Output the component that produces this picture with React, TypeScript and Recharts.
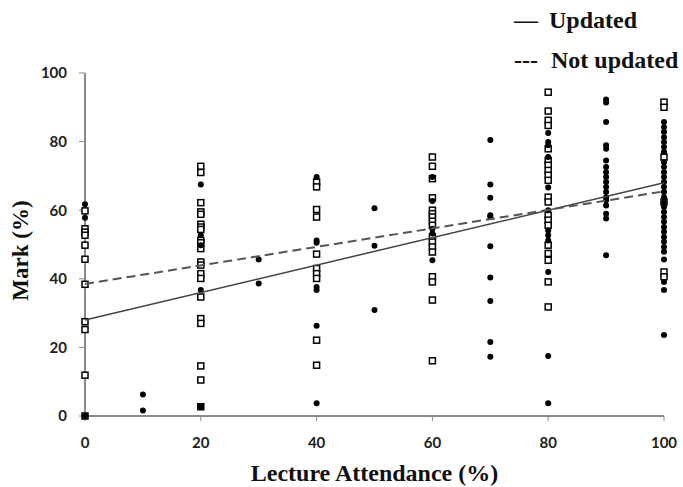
import React from 'react';
import { ScatterChart, Scatter, XAxis, YAxis, Label } from 'recharts';

// lecture attendance levels (%) and the marks read at each level
const attendance = [0, 10, 20, 30, 40, 50, 60, 70, 80, 90, 100];

// filled dots
const updatedMarks: number[][] = [
  [61.7, 57.8, 0],
  [6.3, 1.6],
  [67.5, 52.7, 49.8, 36.7, 2.7],
  [45.6, 38.6],
  [69.7, 51.2, 50.5, 37.6, 36.7, 26.3, 3.7],
  [60.6, 49.6, 30.9],
  [69.7, 62.7, 54.6, 53.2, 45.4],
  [80.5, 67.5, 63.6, 58.5, 58.0, 49.5, 40.4, 33.5, 21.6, 17.3],
  [82.5, 79.9, 78.9, 75.5, 66.6, 60.0, 54.1, 52.7, 51.2, 42.0, 17.5, 3.7],
  [92.3, 91.4, 85.7, 78.9, 77.9, 74.5, 72.6, 71.1, 69.7, 68.2, 66.8, 65.3, 63.8, 62.9, 61.4, 59.0, 57.6, 46.9],
  [85.7, 84.2, 82.8, 81.3, 79.9, 78.4, 77.0, 74.0, 72.6, 71.1, 69.7, 68.2, 66.8, 65.3, 63.8, 62.4, 60.9, 59.5, 58.0, 56.6, 55.1, 53.7, 52.2, 50.8, 49.3, 47.9, 45.6, 39.1, 36.7, 23.6],
];

// open squares
const notUpdatedMarks: number[][] = [
  [59.8, 54.6, 53.6, 52.7, 49.8, 45.7, 38.4, 27.5, 25.2, 11.9, 0],
  [],
  [72.8, 71.0, 62.2, 59.5, 58.8, 55.9, 55.1, 54.4, 51.2, 50.5, 48.8, 44.9, 44.0, 41.5, 40.1, 34.7, 28.4, 27.0, 14.6, 10.5, 2.7],
  [],
  [68.2, 66.8, 60.2, 58.0, 47.2, 43.0, 41.5, 40.1, 22.1, 14.8],
  [],
  [75.5, 72.8, 69.2, 63.6, 60.0, 59.0, 58.0, 56.8, 55.6, 52.2, 50.7, 49.3, 47.8, 40.6, 39.1, 33.8, 16.1],
  [],
  [94.4, 88.9, 86.2, 84.7, 77.9, 74.5, 73.1, 71.6, 70.2, 68.7, 63.8, 62.4, 58.5, 57.1, 55.6, 49.8, 47.4, 45.4, 39.1, 31.8],
  [],
  [91.5, 90.0, 75.5, 62.4, 42.0, 40.6],
];

// trend lines, mark at 0% and 100% attendance
const fitX = [0, 100];
const updatedFit = [28, 68];
const notUpdatedFit = [38.5, 65.5];

const axisTicks = [0, 20, 40, 60, 80, 100];

const toPoints = (marks: number[][]) =>
  marks.flatMap((col, i) => col.map((m) => ({ x: attendance[i], y: m })));
const toLine = (ys: number[]) => fitX.map((x, i) => ({ x, y: ys[i] }));

const AXIS = '#8a8a8a';
const tickStyle = { fill: '#222', fontFamily: 'Lato', fontWeight: 700, fontSize: 15 };
const titleFont = { fontFamily: 'Liberation Serif', fontWeight: 700, fontSize: 24, fill: '#111' };

const Dot = ({ cx, cy }: any) => <circle cx={cx} cy={cy} r={3} fill="#000" />;
const Square = ({ cx, cy }: any) => (
  <rect x={cx - 3} y={cy - 3} width={6} height={6} fill="#fff" stroke="#000" strokeWidth={1.5} />
);
const Nothing = () => <g />;

const XTitle = ({ viewBox }: any) => (
  <text x={viewBox.x + viewBox.width / 2} y={viewBox.y + viewBox.height + 35} textAnchor="middle" {...titleFont}>
    Lecture Attendance (%)
  </text>
);

const YTitle = ({ viewBox }: any) => {
  const cx = viewBox.x - 15;
  const cy = viewBox.y + viewBox.height / 2 + 6;
  return (
    <text x={cx} y={cy} textAnchor="middle" dominantBaseline="central" transform={`rotate(-90, ${cx}, ${cy})`} {...titleFont} fontSize={23}>
      Mark (%)
    </text>
  );
};

const LegendBox = () => (
  <div
    style={{
      position: 'absolute', top: 0, left: 514, width: 169,
      fontFamily: 'Liberation Serif', fontWeight: 700, fontSize: 24, color: '#111', lineHeight: '40px',
    }}
  >
    <div><span>—</span><span style={{ marginLeft: 11 }}>Updated</span></div>
    <div><span>---</span><span style={{ marginLeft: 13 }}>Not updated</span></div>
  </div>
);

export default function App() {
  return (
    <div style={{ position: 'absolute', left: 0, top: 0, width: 683, height: 487, background: '#fff' }}>
      <ScatterChart width={683} height={487} margin={{ top: 73, right: 19, bottom: 41, left: 35 }}>
        <XAxis
          type="number"
          dataKey="x"
          domain={[0, 100]}
          ticks={axisTicks}
          height={30}
          tick={tickStyle}
          tickSize={5}
          tickMargin={16}
          axisLine={{ stroke: AXIS, strokeWidth: 2 }}
          tickLine={{ stroke: AXIS, strokeWidth: 1 }}
        >
          <Label content={XTitle} />
        </XAxis>
        <YAxis
          type="number"
          dataKey="y"
          domain={[0, 100]}
          ticks={axisTicks}
          width={50}
          tick={tickStyle}
          tickSize={6}
          tickMargin={12}
          axisLine={{ stroke: AXIS, strokeWidth: 2 }}
          tickLine={{ stroke: AXIS, strokeWidth: 1 }}
        >
          <Label content={YTitle} />
        </YAxis>
        <Scatter name="Not updated" data={toPoints(notUpdatedMarks)} shape={Square} isAnimationActive={false} />
        <Scatter name="Updated" data={toPoints(updatedMarks)} shape={Dot} isAnimationActive={false} />
        <Scatter
          data={toLine(updatedFit)}
          line={{ stroke: '#444', strokeWidth: 1.5 }}
          shape={Nothing}
          isAnimationActive={false}
        />
        <Scatter
          data={toLine(notUpdatedFit)}
          line={{ stroke: '#555', strokeWidth: 2, strokeDasharray: '9 5' }}
          shape={Nothing}
          isAnimationActive={false}
        />
      </ScatterChart>
      <LegendBox />
    </div>
  );
}
